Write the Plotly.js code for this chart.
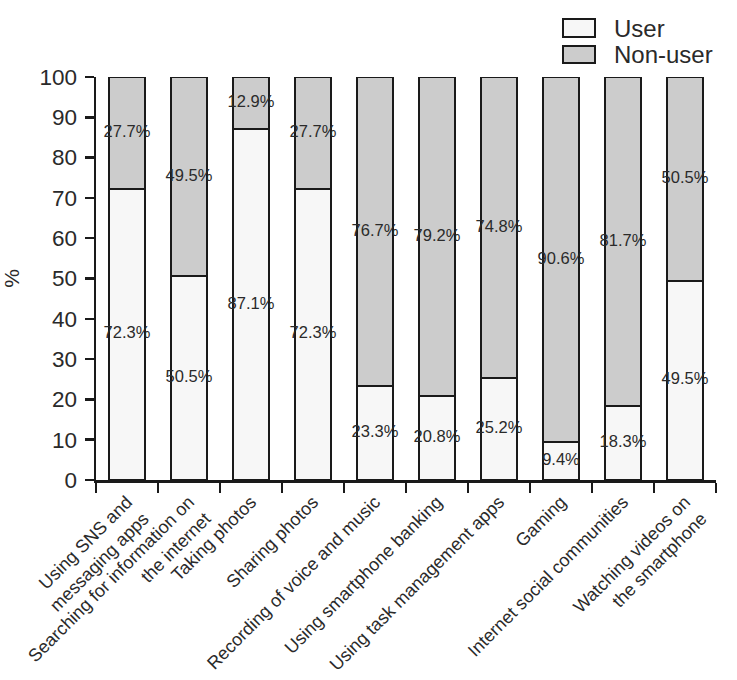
<!DOCTYPE html>
<html><head><meta charset="utf-8">
<script src="https://cdn.plot.ly/plotly-3.0.1.min.js"></script>
<style>html,body{margin:0;padding:0;background:#fff}#chart{width:737px;height:680px}</style>
</head><body><div id="chart"></div>
<script>
const categories = [
  "Using SNS and<br>messaging apps",
  "Searching for information on<br>the internet",
  "Taking photos",
  "Sharing photos",
  "Recording of voice and music",
  "Using smartphone banking",
  "Using task management apps",
  "Gaming",
  "Internet social communities",
  "Watching videos on<br>the smartphone"
];
const userValues = [72.3, 50.5, 87.1, 72.3, 23.3, 20.8, 25.2, 9.4, 18.3, 49.5];
const nonUserValues = [27.7, 49.5, 12.9, 27.7, 76.7, 79.2, 74.8, 90.6, 81.7, 50.5];
const yTicks = [0,10,20,30,40,50,60,70,80,90,100];
const seriesNames = ["User", "Non-user"];
const seriesColors = ["#f7f7f7", "#cccccc"];

const fontFam = "Liberation Sans, Arial, sans-serif";
const txtColor = "#2a2a2a";
const lineColor = "#1a1a1a";

const W = 737, H = 680;
const M = {l:96, r:21, t:77, b:200};
const pw = W - M.l - M.r, ph = H - M.t - M.b;
const px = v => (v - M.l) / pw;
const py = v => (H - M.b - v) / ph;

const traces = [
  {type:'bar', name:seriesNames[0], x:categories, y:userValues,
   marker:{color:seriesColors[0], line:{color:lineColor, width:2}}, hoverinfo:'skip', showlegend:false},
  {type:'bar', name:seriesNames[1], x:categories, y:nonUserValues,
   marker:{color:seriesColors[1], line:{color:lineColor, width:2}}, hoverinfo:'skip', showlegend:false},
  {type:'scatter', mode:'text', x:categories, y:userValues.map(v=>v/2),
   text:userValues.map(v=>v.toFixed(1)+'%'), textposition:'middle center',
   textfont:{family:fontFam, size:16.5, color:txtColor}, showlegend:false, hoverinfo:'skip', cliponaxis:false},
  {type:'scatter', mode:'text', x:categories, y:nonUserValues.map((v,i)=>userValues[i]+v/2),
   text:nonUserValues.map(v=>v.toFixed(1)+'%'), textposition:'middle center',
   textfont:{family:fontFam, size:16.5, color:txtColor}, showlegend:false, hoverinfo:'skip', cliponaxis:false}
];

const legendBoxes = [[19,37],[46,63]];
const shapes = legendBoxes.map((b,i)=>({type:'rect', xref:'paper', yref:'paper',
  x0:px(563), x1:px(595), y0:py(b[1]), y1:py(b[0]),
  fillcolor:seriesColors[i], line:{color:lineColor, width:2}}));
const annotations = legendBoxes.map((b,i)=>({xref:'paper', yref:'paper', x:px(612), y:py((b[0]+b[1])/2),
  xanchor:'left', yanchor:'middle', showarrow:false, text:seriesNames[i],
  font:{family:fontFam, size:24, color:txtColor}}));

const layout = {
  width:W, height:H,
  margin:M,
  paper_bgcolor:'#fff', plot_bgcolor:'#fff',
  barmode:'stack', bargap:0.42,
  font:{family:fontFam, color:txtColor},
  showlegend:false,
  shapes:shapes, annotations:annotations,
  xaxis:{type:'category', range:[-0.5, 9.5], tickson:'boundaries', ticks:'outside',
         ticklen:10, tickwidth:2.5, tickcolor:lineColor, showline:true, linecolor:lineColor,
         linewidth:2.5, tickangle:-45, tickfont:{family:fontFam, size:18, color:txtColor},
         ticklabelstandoff:2,
         showgrid:false, zeroline:false, fixedrange:true},
  yaxis:{range:[0,100], tickvals:yTicks, ticks:'outside', ticklen:9, tickwidth:2.5,
         tickcolor:lineColor, showline:true, linecolor:lineColor, linewidth:2.5,
         tickfont:{family:fontFam, size:22.5, color:txtColor}, showgrid:false, zeroline:false,
         ticklabelstandoff:3,
         title:{text:'%', font:{family:fontFam, size:21, color:txtColor}, standoff:16},
         fixedrange:true}
};
Plotly.newPlot('chart', traces, layout, {displayModeBar:false, staticPlot:true});
</script></body></html>
